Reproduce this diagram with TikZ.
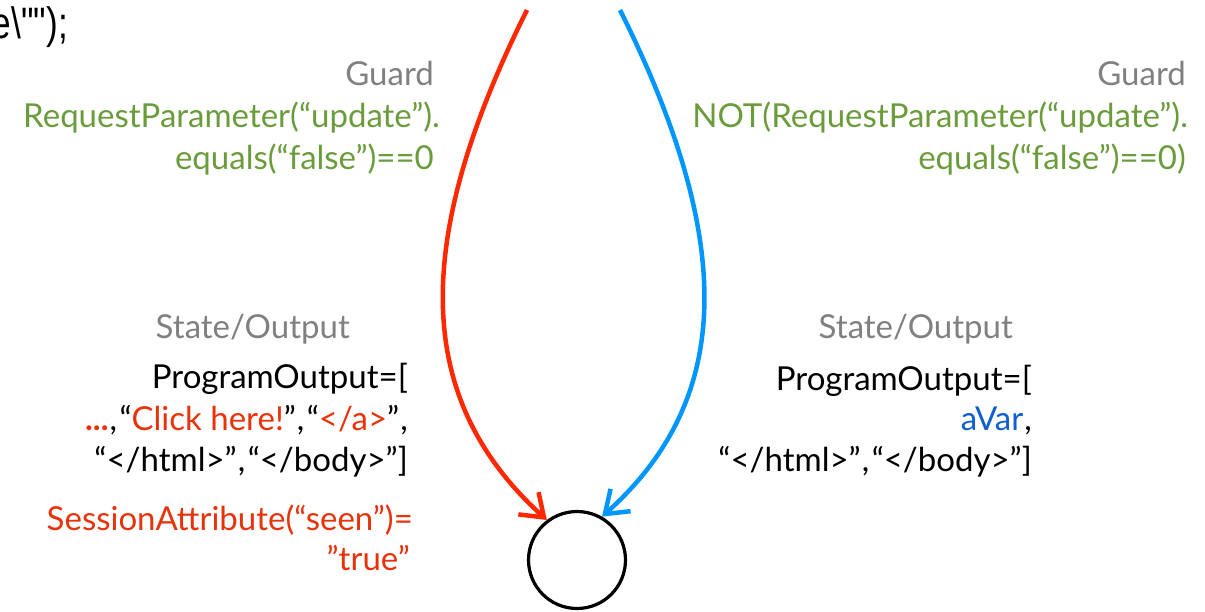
\documentclass[tikz,border=0pt]{standalone}
\usepackage{fontspec}
\setmainfont{Lato}
\newfontfamily\codefont[FakeStretch=0.8]{Liberation Sans}
\usetikzlibrary{arrows.meta}
\definecolor{edgered}{RGB}{255,40,0}
\definecolor{edgeblue}{RGB}{0,150,255}
\definecolor{guardgreen}{RGB}{106,156,60}
\definecolor{labelgray}{RGB}{128,128,128}
\definecolor{textred}{RGB}{232,50,10}
\definecolor{varblue}{RGB}{15,95,208}
\newcommand{\cm}{\kern1pt,\kern2.5pt}
\tikzset{
  txt/.style={inner sep=0pt, anchor=base east, font=\fontsize{33}{40}\selectfont},
  head/.style={txt, text=labelgray},
  guard/.style={txt, text=guardgreen},
  trans/.style={line width=4.5pt, -{Straight Barb[length=21pt,width=30pt]}},
  state/.style={circle, draw=black, line width=3.2pt, minimum size=97pt, inner sep=0pt}
}
\begin{document}
\begin{tikzpicture}[x=1pt,y=-1pt]
\clip (0,0) rectangle (1205,611);
\useasboundingbox (0,0) rectangle (1205,611);

% end of the preceding code line
\node[txt, font=\codefont\fontsize{44}{44}\selectfont] (code) at (68,38) {e\textbackslash\symbol{34}\symbol{34});};

% target state
\node[state] (s) at (577,560) {};

% the two incoming transitions
\coordinate (rs) at (527,10);
\coordinate (bs) at (620,10);
\draw[trans, edgered]  (rs) .. controls (407,250) and (418,403) .. (s.127);
\draw[trans, edgeblue] (bs) .. controls (740,250) and (729,403) .. (s.60);

% guard of the left transition
\node[head]  (gl)  at (434,85)  {Guard};
\node[guard] (gl1) at (440,127) {RequestParameter(“update”).};
\node[guard] (gl2) at (434,169) {equals(“false”)==0};

% guard of the right transition
\node[head]  (gr)  at (1186,85)  {Guard};
\node[guard] (gr1) at (1188,127) {NOT(RequestParameter(“update”).};
\node[guard] (gr2) at (1186,169) {equals(“false”)==0)};

% state/output of the left transition
\node[head] (sl)  at (350,338) {State/Output};
\node[txt]  (ol1) at (408,388) {ProgramOutput=[};
\node[txt]  (ol2) at (408,430) {\textcolor{textred}{\textbf{...}}\cm“\textcolor{textred}{Click here!}”\cm“\textcolor{textred}{</a>}”\kern1pt,};
\node[txt]  (ol3) at (408,471) {“</html>”\cm“</body>”]};
\node[txt, text=textred] (ol4) at (413,530) {SessionAttribute(“seen”)=};
\node[txt, text=textred] (ol5) at (410,570) {”true”};

% state/output of the right transition
\node[head] (sr)  at (1013,338) {State/Output};
\node[txt]  (or1) at (1032,390) {ProgramOutput=[};
\node[txt]  (or2) at (1032,430) {\textcolor{varblue}{aVar}\kern1pt,};
\node[txt]  (or3) at (1032,471) {“</html>”\cm“</body>”]};
\end{tikzpicture}
\end{document}
